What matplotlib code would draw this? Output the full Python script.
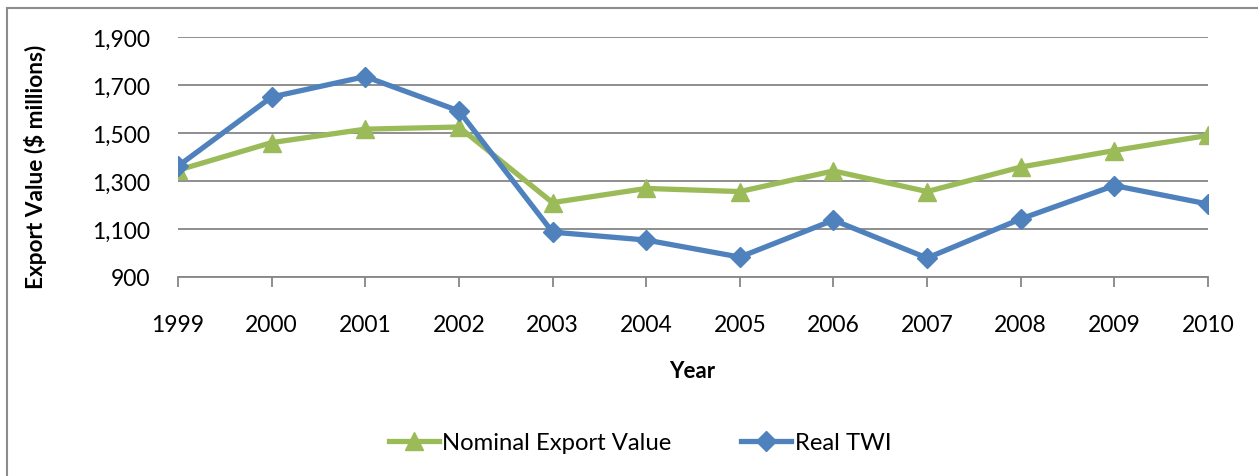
import matplotlib
matplotlib.use("Agg")
import matplotlib.pyplot as plt
from matplotlib.patches import Rectangle
from matplotlib.ticker import FuncFormatter, FixedLocator

years = [1999, 2000, 2001, 2002, 2003, 2004, 2005, 2006, 2007, 2008, 2009, 2010]
nominal_export = [1345, 1460, 1516, 1525, 1210, 1269, 1256, 1342, 1256, 1358, 1427, 1490]
real_twi = [1362, 1650, 1735, 1592, 1087, 1054, 983, 1137, 979, 1142, 1281, 1204]
y_ticks = [900, 1100, 1300, 1500, 1700, 1900]

plt.rcParams['font.family'] = ['Lato', 'DejaVu Sans']

fig = plt.figure(figsize=(12.58, 4.77), dpi=100)
ax = fig.add_axes([178/1258, 1-278/477, (1208-178)/1258, (278-38)/477])

green = '#9BBB59'
blue = '#4F81BD'
grid_c = '#868686'

x = list(range(len(years)))
ax.plot(x, nominal_export, color=green, lw=3.8, marker='^', markersize=13,
        label='Nominal Export Value', zorder=3, solid_joinstyle='round')
ax.plot(x, real_twi, color=blue, lw=3.8, marker='D', markersize=10.5,
        label='Real TWI', zorder=4, solid_joinstyle='round')

ax.set_xlim(0, len(years)-1)
ax.set_ylim(900, 1900)
ax.yaxis.set_major_locator(FixedLocator(y_ticks))
ax.yaxis.set_major_formatter(FuncFormatter(lambda v, p: f"{int(v):,}"))
ax.set_xticks(x)
ax.set_xticklabels([str(y) for y in years])
ax.grid(axis='y', color=grid_c, lw=1.3)
ax.set_axisbelow(True)
for s in ['top', 'right', 'left']:
    ax.spines[s].set_visible(False)
ax.spines['bottom'].set_color(grid_c)
ax.spines['bottom'].set_linewidth(1.3)
ax.tick_params(axis='y', length=0, pad=20, labelsize=16.5)
ax.tick_params(axis='x', length=7, width=1.3, color=grid_c, direction='out', pad=20, labelsize=16.5)
for lab in ax.get_xticklabels() + ax.get_yticklabels():
    lab.set_clip_on(False)

fig.text(692/1258, 1-372/477, 'Year', ha='center', va='center', fontsize=16, fontweight='bold')
fig.text(36/1258, 1-167/477, 'Export Value ($ millions)', ha='center', va='center',
         rotation=90, fontsize=16.3, fontweight='bold')

handles, labels = ax.get_legend_handles_labels()
fig.legend(handles, labels, loc='center', bbox_to_anchor=(640/1258, 1-444/477), ncol=2,
           frameon=False, fontsize=17.2, handlelength=2.1, columnspacing=2.9, handletextpad=0.15)

fig.patches.append(Rectangle((7/1258, -0.1), 1.2, 1.1 - 9/477, transform=fig.transFigure,
                             fill=False, edgecolor='#8c8c8c', lw=1.5))

fig.savefig('out.png', dpi=100)
